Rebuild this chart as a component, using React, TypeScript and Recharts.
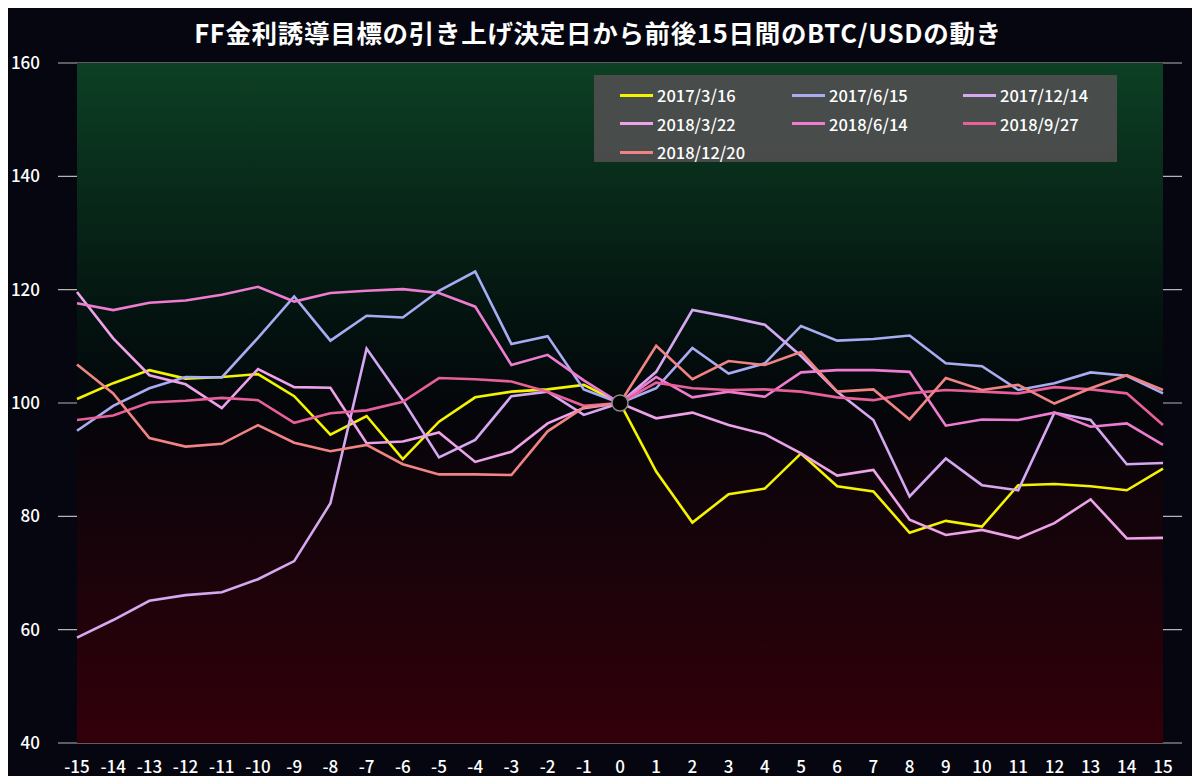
import React from "react";
import {
  LineChart,
  Line,
  XAxis,
  YAxis,
  CartesianGrid,
  ReferenceArea,
  ReferenceDot,
  Legend,
} from "recharts";

const days = [
  -15, -14, -13, -12, -11, -10, -9, -8, -7, -6, -5, -4, -3, -2, -1, 0,
  1, 2, 3, 4, 5, 6, 7, 8, 9, 10, 11, 12, 13, 14, 15,
];

const yTicks = [40, 60, 80, 100, 120, 140, 160];

const seriesNames = [
  "2017/3/16",
  "2017/6/15",
  "2017/12/14",
  "2018/3/22",
  "2018/6/14",
  "2018/9/27",
  "2018/12/20",
];

const seriesColors = [
  "#f4f400",
  "#a9acf2",
  "#d6a8f2",
  "#eea2ea",
  "#f07cd2",
  "#e8609a",
  "#f08484",
];

const mar2017 = [
  100.7, 103.5, 105.8, 104.3, 104.6, 105.1, 101.2, 94.4, 97.7, 90.1, 96.7, 101, 102, 102.4, 103.2, 100,
  87.9, 78.9, 83.9, 84.9, 91.1, 85.3, 84.4, 77.1, 79.2, 78.2, 85.5, 85.7, 85.3, 84.6, 88.4,
];
const jun2017 = [
  95.1, 99.5, 102.6, 104.6, 104.5, 111.5, 118.8, 111, 115.4, 115.1, 119.8, 123.2, 110.4, 111.8, 102.4, 100,
  102.6, 109.7, 105.2, 107, 113.6, 111, 111.3, 111.9, 107, 106.5, 102.3, 103.5, 105.4, 104.8, 101.7,
];
const dec2017 = [
  58.6, 61.7, 65.1, 66.1, 66.6, 68.9, 72.1, 82.3, 109.6, 100.5, 90.4, 93.5, 101.2, 102, 97.9, 100,
  105.5, 116.4, 115.2, 113.8, 108.3, 102, 97, 83.5, 90.2, 85.5, 84.6, 98.3, 97, 89.2, 89.4,
];
const mar2018 = [
  119.6, 111.4, 104.9, 103.3, 99.1, 106, 102.8, 102.7, 92.9, 93.2, 94.8, 89.6, 91.4, 96.4, 99.1, 100,
  97.3, 98.3, 96.1, 94.5, 91.1, 87.2, 88.2, 79.4, 76.7, 77.6, 76.1, 78.8, 83, 76.1, 76.2,
];
const jun2018 = [
  117.6, 116.4, 117.7, 118.1, 119.1, 120.5, 117.9, 119.4, 119.8, 120.1, 119.4, 117, 106.7, 108.5, 104, 100,
  104.6, 101, 102, 101.1, 105.4, 105.8, 105.8, 105.5, 96, 97.1, 97, 98.3, 95.8, 96.4, 92.6,
];
const sep2018 = [
  97, 97.8, 100.1, 100.4, 100.9, 100.5, 96.5, 98.2, 98.7, 100.2, 104.4, 104.2, 103.8, 102, 99.5, 100,
  103.6, 102.6, 102.3, 102.4, 102, 101, 100.5, 101.7, 102.3, 102, 101.7, 102.8, 102.4, 101.7, 96.1,
];
const dec2018 = [
  106.8, 101.7, 93.8, 92.3, 92.8, 96.1, 93, 91.5, 92.6, 89.2, 87.4, 87.4, 87.3, 95, 99.2, 100,
  110.1, 104.2, 107.4, 106.7, 109, 102, 102.4, 97.1, 104.4, 102.3, 103.2, 99.9, 102.6, 104.9, 102.3,
];

const seriesValues = [mar2017, jun2017, dec2017, mar2018, jun2018, sep2018, dec2018];

const data = days.map((day, i) => {
  const row: Record<string, number> = { day };
  seriesNames.forEach((name, k) => {
    row[name] = seriesValues[k][i];
  });
  return row;
});

const FONT = '"Noto Sans CJK JP", "Noto Sans", sans-serif';

const LegendBox = () => (
  <div
    style={{
      background: "rgba(78,78,78,0.92)",
      width: 523,
      height: 87,
      boxSizing: "border-box",
      padding: "6px 0 0 26px",
      display: "grid",
      gridTemplateColumns: "172px 171px 160px",
      gridAutoRows: "28.5px",
      fontFamily: FONT,
      fontSize: 16.5,
      fontWeight: 500,
      color: "#fff",
      textAlign: "left",
    }}
  >
    {seriesNames.map((name, k) => (
      <div key={name} style={{ display: "flex", alignItems: "center" }}>
        <span
          style={{
            display: "inline-block",
            width: 33,
            height: 3,
            background: seriesColors[k],
            marginRight: 4,
          }}
        />
        <span>{name}</span>
      </div>
    ))}
  </div>
);

export default function App() {
  return (
    <div
      style={{
        position: "relative",
        width: 1200,
        height: 784,
        margin: -8,
        background: "#05060f",
        fontFamily: FONT,
        overflow: "hidden",
      }}
    >
      <div
        style={{
          position: "absolute",
          top: 13,
          left: 0,
          width: 1196,
          textAlign: "center",
          color: "#fff",
          fontSize: 25.5,
          fontWeight: 700,
          letterSpacing: 0.7,
          zIndex: 2,
        }}
      >
        FF金利誘導目標の引き上げ決定日から前後15日間のBTC/USDの動き
      </div>
      <LineChart
        width={1200}
        height={784}
        data={data}
        margin={{ top: 63, right: 18, bottom: 11, left: 8 }}
      >
        <defs>
          <linearGradient id="plotBg" x1="0" y1="0" x2="0" y2="1">
            <stop offset="0%" stopColor="#0d4024" />
            <stop offset="40%" stopColor="#03100e" />
            <stop offset="52%" stopColor="#05050a" />
            <stop offset="100%" stopColor="#33000a" />
          </linearGradient>
        </defs>
        <ReferenceArea
          x1={-15}
          x2={15}
          y1={40}
          y2={160}
          fill="url(#plotBg)"
          fillOpacity={1}
          stroke="none"
        />
        <CartesianGrid vertical={false} stroke="#b4b4b4" strokeWidth={1.2} />
        <XAxis
          dataKey="day"
          type="number"
          domain={[-15, 15]}
          ticks={days}
          interval={0}
          padding={{ left: 19, right: 19 }}
          axisLine={false}
          tickLine={false}
          tickSize={0}
          tickMargin={18}
          height={30}
          tick={{ fill: "#fff", fontSize: 17, fontWeight: 500, fontFamily: FONT }}
        />
        <YAxis
          domain={[40, 160]}
          ticks={yTicks}
          interval={0}
          axisLine={false}
          tickLine={false}
          tickSize={0}
          tickMargin={18}
          width={50}
          tick={{ fill: "#fff", fontSize: 17, fontWeight: 500, fontFamily: FONT }}
        />
        <Legend
          layout="horizontal"
          verticalAlign="middle"
          align="center"
          content={<LegendBox />}
          wrapperStyle={{ top: 75, left: 594, width: 523, height: 87 }}
        />
        {seriesNames.map((name, k) => (
          <Line
            key={name}
            type="linear"
            dataKey={name}
            stroke={seriesColors[k]}
            strokeWidth={2.6}
            dot={false}
            activeDot={false}
            isAnimationActive={false}
          />
        ))}
        <ReferenceDot
          x={0}
          y={100}
          r={8}
          fill="#040404"
          stroke="#8a8a8a"
          strokeWidth={1.5}
        />
      </LineChart>
    </div>
  );
}
